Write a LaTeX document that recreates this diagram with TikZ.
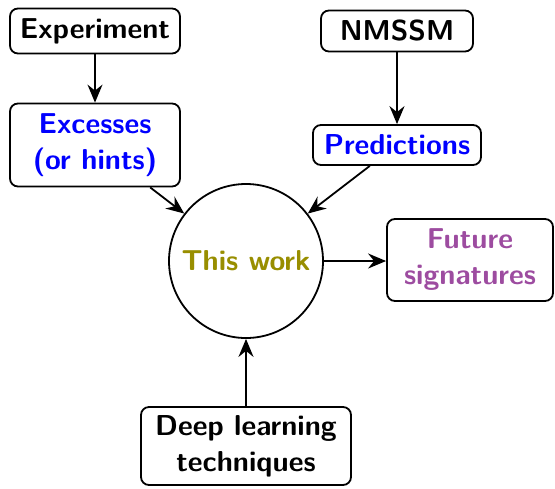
\documentclass[tikz,border=0pt]{standalone}
\usetikzlibrary{arrows.meta}
\definecolor{workolive}{RGB}{152,142,0}
\definecolor{futureviolet}{RGB}{157,76,160}
\begin{document}
\begin{tikzpicture}[x=0.5pt,y=-0.5pt,
  box/.style={draw,line width=0.9pt,rounded corners=4pt,
    font=\Large\sffamily\bfseries,align=center,inner sep=0pt},
  link/.style={-{Stealth[length=9pt,width=7.5pt,inset=3pt]},line width=0.9pt}]
\useasboundingbox (0,0) rectangle (555,488);

% inputs
\node[box,minimum width=85pt,minimum height=22.5pt] (exp) at (95,31) {Experiment};
\node[box,minimum width=76pt,minimum height=20.5pt] (nmssm) at (397,31) {NMSSM};
\node[box,minimum width=85pt,minimum height=41.5pt,text=blue] (exc) at (95,145) {Excesses\\(or hints)};
\node[box,minimum width=84pt,minimum height=20pt,text=blue] (pred) at (397,145) {Predictions};

% central node
\node[draw,circle,line width=0.9pt,minimum size=77pt,inner sep=0pt,
  font=\Large\sffamily\bfseries,text=workolive] (work) at (246,261) {This work};

% outputs
\node[box,minimum width=83pt,minimum height=41pt,text=futureviolet] (fut) at (470,260) {Future\\signatures};
\node[box,minimum width=105pt,minimum height=39pt] (deep) at (246,446) {Deep learning\\techniques};

% connectors
\draw[link] (exp) -- (exc);
\draw[link] (nmssm) -- (pred);
\draw[link] (exc) -- (work);
\draw[link] (pred) -- (work);
\draw[link] (work.east) -- (work.east -| fut.west);
\draw[link] (deep) -- (work);
\end{tikzpicture}
\end{document}
